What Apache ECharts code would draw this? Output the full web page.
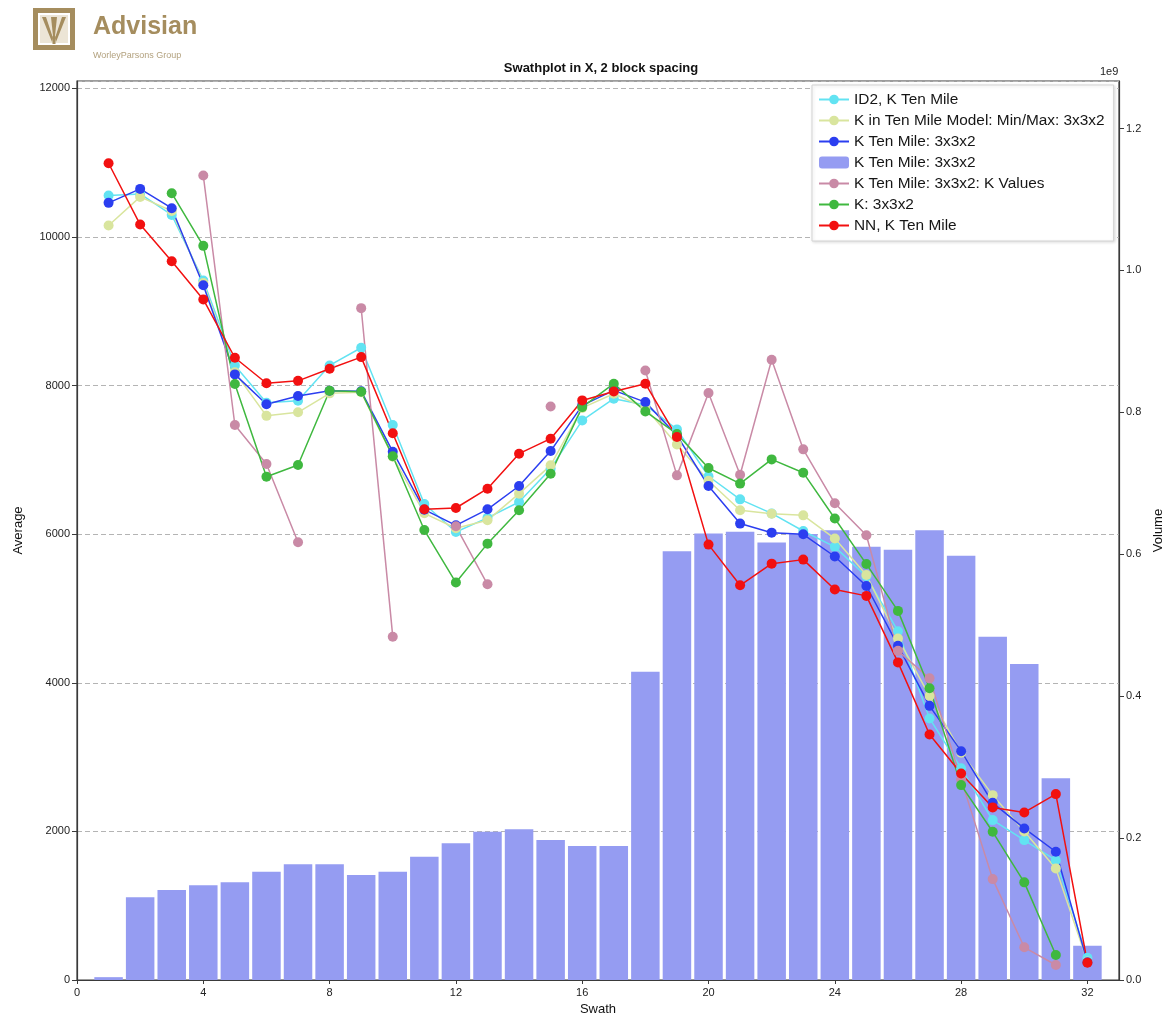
<!DOCTYPE html>
<html>
<head>
<meta charset="utf-8">
<script src="https://cdn.jsdelivr.net/npm/echarts@6/dist/echarts.min.js"></script>
<style>
  html, body { margin: 0; padding: 0; background: #ffffff; }
  #chart { width: 1166px; height: 1019px; }
</style>
</head>
<body>
<div id="chart"></div>
<script>
// Swath positions along X (2 block spacing)
const swaths = [1, 2, 3, 4, 5, 6, 7, 8, 9, 10, 11, 12, 13, 14, 15, 16,
                17, 18, 19, 20, 21, 22, 23, 24, 25, 26, 27, 28, 29, 30, 31, 32];

// Average K per swath
const id2KTenMile = [10558, 10580, 10298, 9415, 8272, 7770, 7797, 8272, 8510, 7470, 6407, 6030, 6220, 6433, 6882, 7532,
                     7824, 7740, 7411, 6780, 6469, 6280, 6043, 5830, 5430, 4695, 3520, 2850, 2152, 1883, 1610, 300];
const kModelMinMax = [10155, 10540, 10350, 9380, 8180, 7593, 7641, 7896, 7910, 7043, 6281, 6080, 6187, 6546, 6927, 7700,
                      7891, 7700, 7209, 6720, 6322, 6277, 6254, 5942, 5450, 4597, 3822, 3060, 2488, 2000, 1502, 250];
const kTenMile = [10460, 10648, 10388, 9352, 8151, 7750, 7860, 7931, 7925, 7111, 6330, 6120, 6335, 6649, 7119, 7734,
                  7936, 7778, 7330, 6649, 6143, 6021, 5999, 5700, 5303, 4500, 3690, 3080, 2385, 2040, 1726, 240];
const kValues = [null, null, null, 10827, 7470, 6945, 5891, null, 9043, 4621, null, 6106, 5326, null, 7720, null,
                 null, 8204, 6792, 7900, 6801, 8348, 7142, 6416, 5987, 4430, 4060, 2700, 1358, 440, 202, null];
const kComposite = [null, null, 10590, 9881, 8022, 6774, 6931, 7931, 7918, 7050, 6056, 5349, 5873, 6322, 6815, 7711,
                    8026, 7653, 7350, 6891, 6681, 7007, 6828, 6211, 5598, 4968, 3926, 2623, 1995, 1314, 336, null];
const nnKTenMile = [10993, 10168, 9675, 9160, 8375, 8032, 8064, 8227, 8384, 7358, 6335, 6353, 6613, 7084, 7286, 7801,
                    7922, 8026, 7308, 5860, 5313, 5604, 5658, 5256, 5170, 4275, 3304, 2780, 2323, 2255, 2502, 233];

// Block volume per swath
const volume = [0.004e9, 0.1165e9, 0.1268e9, 0.1334e9, 0.1377e9, 0.1526e9, 0.1630e9, 0.1630e9, 0.1479e9, 0.1526e9,
                0.1737e9, 0.1926e9, 0.2090e9, 0.2123e9, 0.1973e9, 0.1888e9, 0.1888e9, 0.4344e9, 0.6044e9, 0.6293e9,
                0.6317e9, 0.6167e9, 0.6284e9, 0.6340e9, 0.6105e9, 0.6062e9, 0.6340e9, 0.5979e9, 0.4837e9, 0.4452e9,
                0.2842e9, 0.0483e9];

const FONT = "'Liberation Sans', Arial, Helvetica, sans-serif";
const GOLD = '#a58d5e';

const pairs = arr => swaths.map((s, i) => [s, arr[i] == null ? '-' : arr[i]]);

function lineSeries(name, values, color) {
  return {
    name: name,
    type: 'line',
    data: pairs(values),
    symbol: 'circle',
    symbolSize: 10,
    connectNulls: false,
    lineStyle: { color: color, width: 1.5 },
    itemStyle: { color: color },
    emphasis: { disabled: true }
  };
}

// Legend entries; the bar entry shares its visible text with the blue line
const LBL_CYAN = 'ID2, K Ten Mile';
const LBL_YELLOW = 'K in Ten Mile Model: Min/Max: 3x3x2';
const LBL_BLUE = 'K Ten Mile: 3x3x2';
const LBL_BAR = 'K Ten Mile: 3x3x2 ';
const LBL_PINK = 'K Ten Mile: 3x3x2: K Values';
const LBL_GREEN = 'K: 3x3x2';
const LBL_RED = 'NN, K Ten Mile';

const chart = echarts.init(document.getElementById('chart'), null, { renderer: 'canvas' });

const option = {
  animation: false,
  backgroundColor: '#ffffff',
  textStyle: { fontFamily: FONT },
  title: {
    text: 'Swathplot in X, 2 block spacing',
    left: 596,
    top: 57,
    textAlign: 'center',
    textStyle: { fontFamily: FONT, fontSize: 13, fontWeight: 'bold', color: '#111' }
  },
  grid: {
    left: 77, right: 47, top: 81, bottom: 39,
    outerBoundsMode: 'none',
    containLabel: false,
    show: true, borderColor: '#3a3a3a', borderWidth: 1.2, backgroundColor: 'transparent'
  },
  legend: {
    orient: 'vertical',
    left: 812,
    top: 85,
    data: [LBL_CYAN, LBL_YELLOW, LBL_BLUE, LBL_BAR, LBL_PINK, LBL_GREEN, LBL_RED],
    formatter: n => n.trim(),
    itemWidth: 30,
    itemHeight: 12,
    itemGap: 6,
    padding: [7, 9, 8, 6],
    backgroundColor: '#ffffff',
    borderColor: '#d4d4d4',
    borderWidth: 1,
    shadowColor: 'rgba(0,0,0,0.12)',
    shadowBlur: 3,
    shadowOffsetX: 1,
    shadowOffsetY: 1,
    selectedMode: false,
    textStyle: { fontFamily: FONT, fontSize: 15.4, color: '#161616' }
  },
  xAxis: {
    type: 'value',
    min: 0, max: 33, interval: 4,
    name: 'Swath',
    nameLocation: 'middle',
    nameGap: 22,
    nameTextStyle: { fontFamily: FONT, fontSize: 13, color: '#111' },
    axisLine: { show: true, lineStyle: { color: '#3a3a3a', width: 1.2 } },
    axisTick: { show: true, length: 4, lineStyle: { color: '#3a3a3a' } },
    axisLabel: { fontFamily: FONT, fontSize: 11, color: '#222', margin: 7, showMaxLabel: false },
    splitLine: { show: false }
  },
  yAxis: [
    {
      type: 'value',
      min: 0, max: 12100, interval: 2000,
      name: 'Average',
      nameLocation: 'middle',
      nameGap: 52,
      nameRotate: 90,
      nameTextStyle: { fontFamily: FONT, fontSize: 13, color: '#111' },
      axisLine: { show: true, lineStyle: { color: '#3a3a3a', width: 1.2 } },
      axisTick: { show: true, length: 5, lineStyle: { color: '#3a3a3a' } },
      axisLabel: {
        fontFamily: FONT, fontSize: 11, color: '#222', margin: 7, showMaxLabel: false,
        formatter: v => String(v)
      },
      splitLine: { show: true, lineStyle: { color: '#b4b4b4', type: [5, 3], width: 1 } }
    },
    {
      type: 'value',
      position: 'right',
      min: 0, max: 1.267e9, interval: 0.2e9,
      name: 'Volume',
      nameLocation: 'middle',
      nameGap: 30,
      nameRotate: 90,
      nameTextStyle: { fontFamily: FONT, fontSize: 13, color: '#111' },
      axisLine: { show: true, lineStyle: { color: '#3a3a3a', width: 1.2 } },
      axisTick: { show: true, length: 5, lineStyle: { color: '#3a3a3a' } },
      axisLabel: {
        fontFamily: FONT, fontSize: 11, color: '#222', margin: 7, showMaxLabel: false,
        formatter: v => (v / 1e9).toFixed(1)
      },
      splitLine: { show: false }
    }
  ],
  series: [
    {
      name: LBL_BAR,
      type: 'bar',
      yAxisIndex: 1,
      data: pairs(volume),
      barWidth: 28.5,
      itemStyle: { color: '#959cf2' },
      emphasis: { disabled: true }
    },
    lineSeries(LBL_CYAN, id2KTenMile, '#62e3f2'),
    lineSeries(LBL_YELLOW, kModelMinMax, '#d9e59e'),
    lineSeries(LBL_BLUE, kTenMile, '#2b3ef0'),
    lineSeries(LBL_PINK, kValues, '#c98aa6'),
    lineSeries(LBL_GREEN, kComposite, '#3fb83f'),
    lineSeries(LBL_RED, nnKTenMile, '#f21010')
  ],
  graphic: [
    // Company mark
    { type: 'rect', shape: { x: 33, y: 8, width: 42, height: 42 }, style: { fill: GOLD } },
    { type: 'rect', shape: { x: 38, y: 13, width: 32, height: 32 }, style: { fill: '#ffffff' } },
    { type: 'rect', shape: { x: 40, y: 15, width: 28, height: 28 }, style: { fill: '#ece5d6' } },
    { type: 'polygon', shape: { points: [[42, 17], [46, 17], [53, 38], [52, 42]] }, style: { fill: GOLD } },
    { type: 'polygon', shape: { points: [[66, 17], [62, 17], [55, 38], [56, 42]] }, style: { fill: GOLD } },
    { type: 'polygon', shape: { points: [[51, 17], [57, 17], [55, 36], [53, 36]] }, style: { fill: GOLD } },
    { type: 'rect', shape: { x: 52.5, y: 36, width: 3, height: 8 }, style: { fill: GOLD } },
    {
      type: 'text', left: 93, top: 15,
      style: { text: 'Advisian', fontFamily: FONT, fontSize: 25, fontWeight: 'bold', fill: GOLD }
    },
    {
      type: 'text', left: 93, top: 51,
      style: { text: 'WorleyParsons Group', fontFamily: FONT, fontSize: 9, fill: '#b3a27f' }
    },
    // Exponent for the volume axis
    {
      type: 'text', left: 1100, top: 66,
      style: { text: '1e9', fontFamily: FONT, fontSize: 11, fill: '#222' }
    }
  ]
};

chart.setOption(option);
</script>
</body>
</html>
